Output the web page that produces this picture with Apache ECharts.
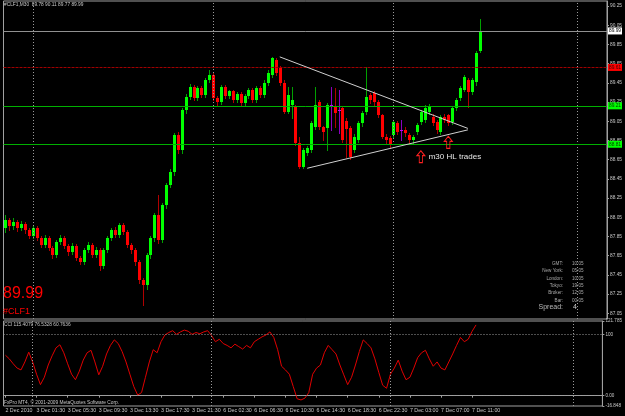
<!DOCTYPE html>
<html><head><meta charset="utf-8">
<script src="https://cdn.jsdelivr.net/npm/echarts@6/dist/echarts.min.js"></script>
<style>html,body{margin:0;padding:0;background:#000}#c{width:625px;height:416px}</style>
</head><body><div id="c"></div>
<script>
const timeLabels = ['2 Dec 2010','3 Dec 01:30','3 Dec 05:30','3 Dec 09:30','3 Dec 13:30','3 Dec 17:30','3 Dec 21:30','6 Dec 02:30','6 Dec 06:30','6 Dec 10:30','6 Dec 14:30','6 Dec 18:30','6 Dec 22:30','7 Dec 03:00','7 Dec 07:00','7 Dec 11:00'];
const openP = [87.94,88.02,87.96,88.00,87.94,87.98,87.92,87.85,87.94,87.83,87.76,87.83,87.73,87.66,87.79,87.83,87.75,87.69,87.75,87.63,87.58,87.71,87.76,87.66,87.71,87.54,87.71,87.83,87.92,87.86,87.97,87.90,87.76,87.71,87.58,87.40,87.34,87.66,87.83,88.07,87.81,88.18,88.39,88.52,88.91,88.75,89.17,89.30,89.41,89.29,89.40,89.32,89.48,89.53,89.29,89.25,89.41,89.31,89.36,89.27,89.33,89.24,89.31,89.38,89.27,89.40,
89.32,89.45,89.53,89.69,89.60,89.45,89.15,89.22,89.20,88.82,88.57,88.72,88.75,88.99,89.25,88.99,88.98,89.22,89.20,89.17,89.19,89.05,88.98,88.75,88.85,89.03,89.15,89.32,89.34,89.25,89.11,88.89,88.87,88.91,89.03,88.96,88.96,88.91,88.85,88.94,89.04,89.06,89.15,89.09,89.04,88.94,89.09,89.11,89.04,89.19,89.29,89.38,89.48,89.35,89.46,89.78];
const closeP = [88.02,87.96,88.00,87.94,87.98,87.92,87.85,87.94,87.83,87.76,87.83,87.73,87.66,87.79,87.83,87.75,87.69,87.75,87.63,87.58,87.71,87.76,87.66,87.71,87.54,87.71,87.83,87.92,87.86,87.97,87.90,87.76,87.71,87.58,87.40,87.34,87.66,87.83,88.07,87.81,88.18,88.39,88.52,88.91,88.75,89.17,89.30,89.41,89.29,89.40,89.32,89.48,89.53,89.29,89.25,89.41,89.31,89.36,89.27,89.33,89.24,89.31,89.38,89.27,89.40,89.32,
89.45,89.55,89.71,89.55,89.45,89.15,89.32,89.27,88.82,88.57,88.75,88.77,89.03,89.22,88.99,88.94,89.22,89.22,89.14,89.17,88.85,88.97,88.68,88.89,89.03,89.14,89.30,89.27,89.25,89.11,88.89,88.85,88.80,89.04,88.94,88.96,88.93,88.85,88.89,89.01,89.15,89.19,89.20,89.03,88.96,89.09,89.06,89.03,89.19,89.27,89.40,89.51,89.35,89.48,89.76,89.99];
const lowP = [87.90,87.92,87.93,87.91,87.92,87.89,87.83,87.83,87.81,87.74,87.74,87.71,87.63,87.64,87.77,87.73,87.66,87.67,87.60,87.56,87.56,87.69,87.64,87.64,87.50,87.52,87.69,87.81,87.84,87.84,87.88,87.74,87.68,87.55,87.36,87.14,87.30,87.63,87.80,87.78,87.79,88.15,88.36,88.49,88.72,88.72,89.14,89.28,89.27,89.27,89.30,89.30,89.46,89.27,89.22,89.23,89.29,89.29,89.25,89.25,89.22,89.22,89.29,89.25,89.25,89.30,
89.30,89.43,89.51,89.53,89.43,89.14,89.14,89.08,88.80,88.56,88.56,88.70,88.73,88.97,88.97,88.85,88.75,88.96,88.99,88.93,88.83,88.68,88.66,88.73,88.83,89.00,89.12,89.24,89.22,89.09,88.87,88.82,88.77,88.89,88.92,88.85,88.90,88.82,88.82,88.92,89.02,89.04,89.12,89.01,88.93,88.92,89.04,89.01,89.02,89.17,89.27,89.36,89.20,89.33,89.43,89.77];
const highP = [88.07,88.04,88.04,88.02,88.01,88.00,87.94,87.96,87.96,87.85,87.86,87.85,87.75,87.81,87.86,87.85,87.77,87.78,87.77,87.65,87.73,87.79,87.78,87.74,87.73,87.73,87.85,87.94,87.95,87.99,87.99,87.92,87.78,87.73,87.60,87.42,87.68,87.85,88.09,88.28,88.20,88.41,88.55,88.93,88.94,89.19,89.33,89.44,89.43,89.42,89.42,89.50,89.58,89.55,89.31,89.43,89.43,89.38,89.38,89.35,89.35,89.33,89.40,89.40,89.42,89.42,
89.48,89.58,89.72,89.71,89.62,89.48,89.41,89.41,89.22,88.89,88.77,88.79,89.05,89.41,89.27,89.00,89.24,89.41,89.40,89.38,89.21,89.08,89.00,88.92,89.05,89.16,89.61,89.34,89.36,89.27,89.13,88.92,88.90,89.06,89.05,89.06,88.99,88.93,88.91,89.03,89.17,89.22,89.23,89.12,89.06,89.11,89.12,89.13,89.21,89.29,89.42,89.53,89.50,89.50,89.78,90.11];
const cciValues = [66,60,52,45,42,55,71,55,35,18,30,50,65,78,83,70,52,35,26,40,58,70,74,55,34,48,68,82,91,85,72,55,35,15,1,5,30,55,75,70,88,99,103,106,100,104,107,105,100,103,101,104,106,98,88,92,85,82,78,84,80,76,82,78,88,92,96,99,104,95,75,48,42,35,15,-5,-7,-4,5,35,45,50,70,82,75,68,50,34,18,30,50,72,91,85,78,60,38,17,12,35,45,58,40,26,30,45,62,70,74,60,48,55,45,42,55,68,82,95,88,92,105,115.41];
const priceTicks = ['90.25','90.05','89.85','89.65','89.45','89.25','89.05','88.85','88.65','88.45','88.25','88.05','87.85','87.65','87.45','87.25','87.05'];
const cciTicks = ['121.785','100','0.00','-16.848'];
const cciLevels = [100, 0];
const bidPrice = [89.99];
const redLevels = [89.61];
const greenLevels = [89.21, 88.81];
const triangleUpper = [[69.8, 89.72], [117.6, 88.975]];
const triangleLower = [[76.9, 88.56], [117.6, 88.96]];
const arrowPoints = [[105.6, 88.68], [112.8, 88.83]];
const noteText = 'm30 HL trades';
const notePoint = [108.0, 88.68];
const panelLabels = ['GMT:', 'New York:', 'London:', 'Tokyo:', 'Broker:', 'Bar:'];
const panelValues = ['10:05', '05:05', '10:05', '19:05', '12:05', '00:05'];
const spreadValue = '4';

const N = 154;
const cats = [];
for (let i = 0; i < N; i++) cats.push(String(i));
const bars = openP.map((o, i) => [i, o, closeP[i], lowP[i], highP[i]]);

const FONT = 'Liberation Sans';
const txt = '#c8c8c8';
const chart = echarts.init(document.getElementById('c'), null, {renderer: 'canvas'});

function renderCandle(params, api) {
  const i = api.value(0);
  const o = api.coord([i, api.value(1)]);
  const c = api.coord([i, api.value(2)]);
  const l = api.coord([i, api.value(3)]);
  const h = api.coord([i, api.value(4)]);
  const x = Math.round(o[0]);
  const up = api.value(2) > api.value(1);
  const doji = api.value(2) === api.value(1);
  const body = doji ? '#c000ff' : (up ? '#00ff00' : '#ff0000');
  const wick = doji ? '#8a00c0' : (up ? '#00a000' : '#b00000');
  const top = Math.round(Math.min(o[1], c[1]));
  const bot = Math.round(Math.max(o[1], c[1]));
  return {
    type: 'group',
    children: [
      {type: 'line', shape: {x1: x + 0.5, y1: Math.round(h[1]), x2: x + 0.5, y2: Math.round(l[1]) + 1}, style: {stroke: wick, lineWidth: 1}},
      {type: 'rect', shape: {x: x - 1, y: top, width: 3, height: Math.max(1, bot - top)}, style: {fill: body}}
    ]
  };
}

const vGrid = [7, 52.5, 99, 145.5];
const dotted = {color: '#9a9a9a', type: [1, 2], width: 1};

function levelLine(v, color, lineType, bg, fg) {
  return {yAxis: v, lineStyle: {color: color, type: lineType, width: 1},
    label: {show: true, position: 'end', distance: 1, formatter: v.toFixed(2), backgroundColor: bg, color: fg,
      fontFamily: FONT, fontSize: 4.8, padding: [1, 1, 1, 1]}};
}

const panelGraphics = [];
panelLabels.forEach((t, k) => {
  const y = 263.5 + k * 7.4;
  panelGraphics.push({type: 'text', x: 563, y: y, style: {text: t, fill: '#a8a8a8', font: '4.6px ' + FONT, textAlign: 'right', textVerticalAlign: 'middle'}});
  panelGraphics.push({type: 'text', x: 572, y: y, style: {text: panelValues[k], fill: '#a8a8a8', font: '4.6px ' + FONT, textVerticalAlign: 'middle'}});
});
panelGraphics.push({type: 'text', x: 563, y: 307.5, style: {text: 'Spread:', fill: '#b8b8b8', font: '7px ' + FONT, textAlign: 'right', textVerticalAlign: 'middle'}});
panelGraphics.push({type: 'text', x: 573, y: 307.5, style: {text: spreadValue, fill: '#d0d0d0', font: '7px ' + FONT, textVerticalAlign: 'middle'}});

const labelInterval = (idx) => idx % 8 === 0 && idx / 8 < timeLabels.length;

const option = {
  backgroundColor: '#000',
  animation: false,
  grid: [
    {left: 3.5, right: 18, top: 1, height: 318, show: true, borderColor: '#a0a0a0', borderWidth: 1, backgroundColor: 'transparent'},
    {left: 3.5, right: 18, top: 321, height: 85, show: true, borderColor: '#a0a0a0', borderWidth: 1, backgroundColor: 'transparent'}
  ],
  xAxis: [
    {type: 'category', gridIndex: 0, data: cats, boundaryGap: true, show: false},
    {type: 'category', gridIndex: 1, data: cats, boundaryGap: true,
      axisLine: {show: true, lineStyle: {color: '#a0a0a0'}},
      axisTick: {show: true, alignWithLabel: true, length: 2, lineStyle: {color: '#a0a0a0'}, interval: labelInterval},
      axisLabel: {show: true, interval: labelInterval, showMinLabel: true, showMaxLabel: true, hideOverlap: false,
        formatter: (v, idx) => timeLabels[idx / 8] || '', align: 'left', margin: 2,
        color: txt, fontFamily: FONT, fontSize: 5.3},
      splitLine: {show: false}}
  ],
  yAxis: [
    {type: 'value', gridIndex: 0, position: 'right', min: 86.990, max: 90.302, scale: true,
      axisLine: {show: true, lineStyle: {color: '#a0a0a0'}},
      axisTick: {show: true, length: 2, lineStyle: {color: '#a0a0a0'}, customValues: priceTicks.map(Number)},
      axisLabel: {show: true, customValues: priceTicks.map(Number), formatter: (v) => Number(v).toFixed(2),
        showMinLabel: true, showMaxLabel: true, hideOverlap: false,
        color: txt, fontFamily: FONT, fontSize: 4.8, margin: 3},
      splitLine: {show: false}},
    {type: 'value', gridIndex: 1, position: 'right', min: -16.8482, max: 121.7857,
      axisLine: {show: true, lineStyle: {color: '#a0a0a0'}},
      axisTick: {show: true, length: 2, lineStyle: {color: '#a0a0a0'}, customValues: cciTicks.map(Number)},
      axisLabel: {show: true, customValues: cciTicks.map(Number), showMinLabel: true, showMaxLabel: true, hideOverlap: false,
        formatter: (v) => { const k = cciTicks.map(Number).indexOf(Number(v)); return k >= 0 ? cciTicks[k] : ''; },
        color: txt, fontFamily: FONT, fontSize: 4.6, margin: 3},
      splitLine: {show: false}}
  ],
  series: [
    {type: 'custom', xAxisIndex: 0, yAxisIndex: 0, data: bars, encode: {x: 0, y: [1, 2, 3, 4]},
      renderItem: renderCandle, clip: true, z: 3,
      markLine: {silent: true, symbol: 'none', animation: false,
        data: [
          ...vGrid.map(v => ({xAxis: v, lineStyle: dotted, label: {show: false}})),
          levelLine(bidPrice[0], '#909090', 'solid', '#ffffff', '#000'),
          ...redLevels.map(v => levelLine(v, '#a00000', [3, 1], '#ff0000', '#400000')),
          ...greenLevels.map(v => levelLine(v, '#00b000', 'solid', '#00ff00', '#004000')),
          [{coord: triangleUpper[0], lineStyle: {color: '#d0d0d0', type: 'solid', width: 1}, label: {show: false}}, {coord: triangleUpper[1]}],
          [{coord: triangleLower[0], lineStyle: {color: '#d0d0d0', type: 'solid', width: 1}, label: {show: false}}, {coord: triangleLower[1]}]
        ]},
      markPoint: {silent: true, animation: false,
        data: [
          ...arrowPoints.map(p => ({coord: p, symbol: 'path://M5,0 L10,5 L7,5 L7,12 L3,12 L3,5 L0,5 Z', symbolSize: [8, 12],
            itemStyle: {color: 'rgba(0,0,0,0)', borderColor: '#ff2020', borderWidth: 1}, label: {show: false}})),
          {coord: notePoint, symbol: 'circle', symbolSize: 0,
            label: {show: true, position: 'right', distance: 0, formatter: noteText, color: '#e8e8e8', fontFamily: FONT, fontSize: 8}}
        ]}
    },
    {type: 'line', xAxisIndex: 1, yAxisIndex: 1, data: cciValues, showSymbol: false, symbol: 'none',
      lineStyle: {color: '#e00000', width: 1}, z: 3,
      markLine: {silent: true, symbol: 'none', animation: false,
        data: [
          ...vGrid.map(v => ({xAxis: v, lineStyle: dotted, label: {show: false}})),
          ...cciLevels.map(v => ({yAxis: v, lineStyle: dotted, label: {show: false}}))
        ]}}
  ],
  graphic: [
    {type: 'text', x: 4, y: 5, style: {text: '#CLF1,M30  89.78 90.11 89.77 89.99', fill: txt, font: '4.8px ' + FONT, textVerticalAlign: 'middle'}},
    {type: 'text', x: 3, y: 294, style: {text: '89.99', fill: '#ff0000', font: '16px ' + FONT, textVerticalAlign: 'middle'}},
    {type: 'text', x: 3, y: 311.5, style: {text: '#CLF1', fill: '#ff0000', font: '9px ' + FONT, textVerticalAlign: 'middle'}},
    {type: 'text', x: 4, y: 325, style: {text: 'CCI 115.4079 76.5328 60.7636', fill: txt, font: '4.8px ' + FONT, textVerticalAlign: 'middle'}},
    {type: 'text', x: 4, y: 402.5, style: {text: 'FxPro MT4, \u00a9 2001-2009 MetaQuotes Software Corp.', fill: txt, font: '4.8px ' + FONT, textVerticalAlign: 'middle'}},
    ...panelGraphics
  ]
};
chart.setOption(option);
</script>
</body></html>
